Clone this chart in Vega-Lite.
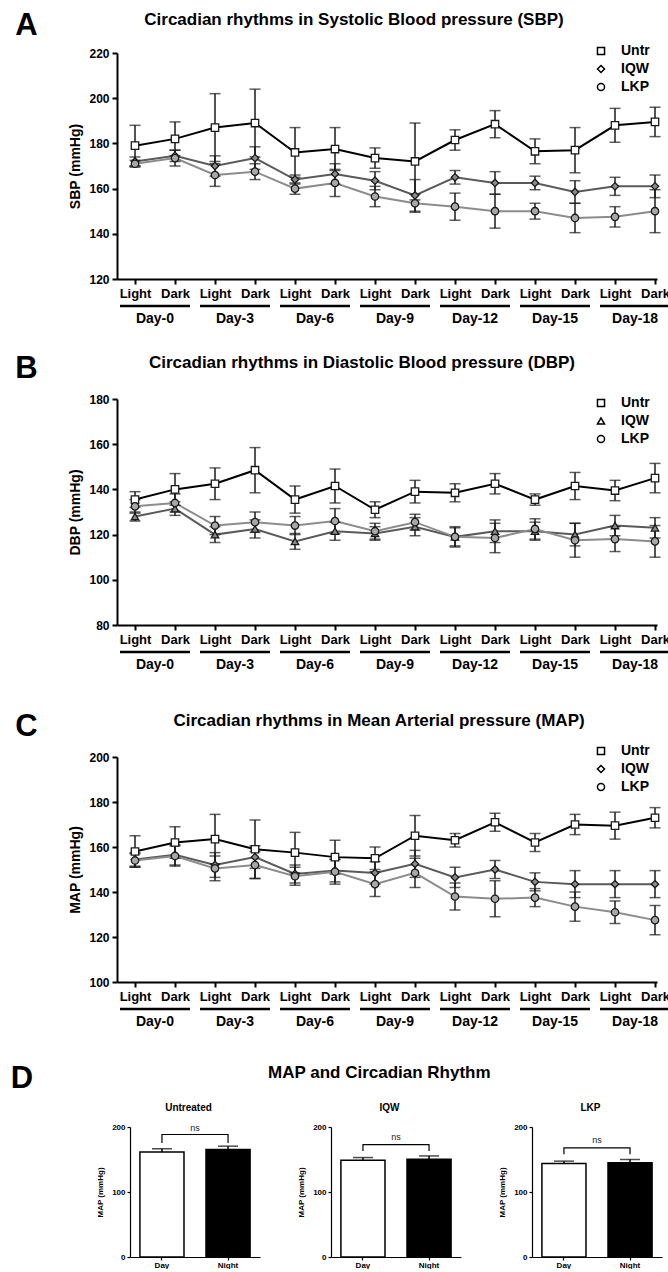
{
"$schema":"https://vega.github.io/schema/vega-lite/v6.json",
"padding":{"left":10,"top":10,"right":0,"bottom":0},
"config":{"font":"Liberation Sans","view":{"stroke":null},
 "axis":{"grid":false,"domainColor":"#000","domainWidth":2,"tickColor":"#000","tickWidth":2,"tickSize":5,"labelColor":"#000","labelFontWeight":"bold","titleColor":"#000","titleFontWeight":"bold","labelFont":"Liberation Sans","titleFont":"Liberation Sans"},
 "title":{"color":"#000","font":"Liberation Sans"},
 "legend":{"labelColor":"#000","labelFont":"Liberation Sans","padding":0,"labelFontSize":14,"labelFontWeight":"bold","symbolSize":50,"symbolStrokeWidth":1.5,"symbolStrokeColor":"#000","symbolFillColor":"#fff","labelOffset":13,"rowPadding":4,"title":null}},
"datasets":{
 "sbp":[
  {"i":0,"g":"Untr","m":179,"e":9},{"i":1,"g":"Untr","m":182,"e":7.5},{"i":2,"g":"Untr","m":187,"e":15},{"i":3,"g":"Untr","m":189,"e":15},{"i":4,"g":"Untr","m":176,"e":11},{"i":5,"g":"Untr","m":177.5,"e":9.5},{"i":6,"g":"Untr","m":173.5,"e":4.5},{"i":7,"g":"Untr","m":172,"e":17},{"i":8,"g":"Untr","m":181.5,"e":4.5},{"i":9,"g":"Untr","m":188.5,"e":6},{"i":10,"g":"Untr","m":176.5,"e":5.5},{"i":11,"g":"Untr","m":177,"e":10},{"i":12,"g":"Untr","m":188,"e":7.5},{"i":13,"g":"Untr","m":189.5,"e":6.5},
  {"i":0,"g":"IQW","m":172,"e":2},{"i":1,"g":"IQW","m":174.5,"e":2.5},{"i":2,"g":"IQW","m":170,"e":4.5},{"i":3,"g":"IQW","m":173.5,"e":5},{"i":4,"g":"IQW","m":164,"e":2},{"i":5,"g":"IQW","m":166.5,"e":4.5},{"i":6,"g":"IQW","m":163.5,"e":4},{"i":7,"g":"IQW","m":157,"e":7},{"i":8,"g":"IQW","m":165,"e":3},{"i":9,"g":"IQW","m":162.5,"e":5},{"i":10,"g":"IQW","m":162.5,"e":3},{"i":11,"g":"IQW","m":158.5,"e":5},{"i":12,"g":"IQW","m":161,"e":4},{"i":13,"g":"IQW","m":161,"e":5},
  {"i":0,"g":"LKP","m":171,"e":1.5},{"i":1,"g":"LKP","m":173.5,"e":3.5},{"i":2,"g":"LKP","m":166,"e":5},{"i":3,"g":"LKP","m":167.5,"e":3.5},{"i":4,"g":"LKP","m":160,"e":2.5},{"i":5,"g":"LKP","m":162.5,"e":6},{"i":6,"g":"LKP","m":156.5,"e":4.5},{"i":7,"g":"LKP","m":153.5,"e":4},{"i":8,"g":"LKP","m":152,"e":6},{"i":9,"g":"LKP","m":150,"e":7.5},{"i":10,"g":"LKP","m":150,"e":3.5},{"i":11,"g":"LKP","m":147,"e":6.5},{"i":12,"g":"LKP","m":147.5,"e":4.5},{"i":13,"g":"LKP","m":150,"e":9.5}
 ],
 "dbp":[
  {"i":0,"g":"Untr","m":135.5,"e":3.5},{"i":1,"g":"Untr","m":140,"e":7},{"i":2,"g":"Untr","m":142.5,"e":7},{"i":3,"g":"Untr","m":148.5,"e":10},{"i":4,"g":"Untr","m":135.5,"e":6},{"i":5,"g":"Untr","m":141.5,"e":7.5},{"i":6,"g":"Untr","m":131,"e":3.5},{"i":7,"g":"Untr","m":139,"e":5},{"i":8,"g":"Untr","m":138.5,"e":4},{"i":9,"g":"Untr","m":142.5,"e":4.5},{"i":10,"g":"Untr","m":135.5,"e":2.5},{"i":11,"g":"Untr","m":141.5,"e":6},{"i":12,"g":"Untr","m":139.5,"e":4.5},{"i":13,"g":"Untr","m":145,"e":6.5},
  {"i":0,"g":"IQW","m":128,"e":2},{"i":1,"g":"IQW","m":131.5,"e":3},{"i":2,"g":"IQW","m":120,"e":3.5},{"i":3,"g":"IQW","m":122.5,"e":4},{"i":4,"g":"IQW","m":117,"e":3.5},{"i":5,"g":"IQW","m":121.5,"e":4},{"i":6,"g":"IQW","m":120.5,"e":3},{"i":7,"g":"IQW","m":123.5,"e":4},{"i":8,"g":"IQW","m":119,"e":4},{"i":9,"g":"IQW","m":121.5,"e":5},{"i":10,"g":"IQW","m":121.5,"e":4},{"i":11,"g":"IQW","m":120,"e":5},{"i":12,"g":"IQW","m":124,"e":4.5},{"i":13,"g":"IQW","m":123,"e":4.5},
  {"i":0,"g":"LKP","m":132.5,"e":3},{"i":1,"g":"LKP","m":134,"e":4},{"i":2,"g":"LKP","m":124,"e":4},{"i":3,"g":"LKP","m":125.5,"e":4.5},{"i":4,"g":"LKP","m":124,"e":4},{"i":5,"g":"LKP","m":126,"e":5.5},{"i":6,"g":"LKP","m":121.5,"e":3.5},{"i":7,"g":"LKP","m":125.5,"e":3.5},{"i":8,"g":"LKP","m":119,"e":4.5},{"i":9,"g":"LKP","m":118.5,"e":6.5},{"i":10,"g":"LKP","m":122.5,"e":4.5},{"i":11,"g":"LKP","m":117.5,"e":7.5},{"i":12,"g":"LKP","m":118,"e":5.5},{"i":13,"g":"LKP","m":117,"e":7}
 ],
 "map":[
  {"i":0,"g":"Untr","m":158,"e":7},{"i":1,"g":"Untr","m":162,"e":7},{"i":2,"g":"Untr","m":163.5,"e":11},{"i":3,"g":"Untr","m":159,"e":13},{"i":4,"g":"Untr","m":157.5,"e":9},{"i":5,"g":"Untr","m":155.5,"e":7.5},{"i":6,"g":"Untr","m":155,"e":5},{"i":7,"g":"Untr","m":165,"e":9},{"i":8,"g":"Untr","m":163,"e":3},{"i":9,"g":"Untr","m":171,"e":4},{"i":10,"g":"Untr","m":162,"e":4},{"i":11,"g":"Untr","m":170,"e":4.5},{"i":12,"g":"Untr","m":169.5,"e":6},{"i":13,"g":"Untr","m":173,"e":4.5},
  {"i":0,"g":"IQW","m":154.5,"e":3},{"i":1,"g":"IQW","m":156.5,"e":4.5},{"i":2,"g":"IQW","m":152,"e":5.5},{"i":3,"g":"IQW","m":155.5,"e":5},{"i":4,"g":"IQW","m":148,"e":4},{"i":5,"g":"IQW","m":149.5,"e":5},{"i":6,"g":"IQW","m":148.5,"e":5},{"i":7,"g":"IQW","m":152.5,"e":6},{"i":8,"g":"IQW","m":146.5,"e":4.5},{"i":9,"g":"IQW","m":150,"e":4},{"i":10,"g":"IQW","m":144.5,"e":4},{"i":11,"g":"IQW","m":143.5,"e":6},{"i":12,"g":"IQW","m":143.5,"e":6},{"i":13,"g":"IQW","m":143.5,"e":6},
  {"i":0,"g":"LKP","m":154,"e":3},{"i":1,"g":"LKP","m":156,"e":4.5},{"i":2,"g":"LKP","m":150.5,"e":5.5},{"i":3,"g":"LKP","m":152,"e":6},{"i":4,"g":"LKP","m":147,"e":4},{"i":5,"g":"LKP","m":149,"e":5.5},{"i":6,"g":"LKP","m":143.5,"e":5.5},{"i":7,"g":"LKP","m":148.5,"e":6.5},{"i":8,"g":"LKP","m":138,"e":6},{"i":9,"g":"LKP","m":137,"e":8},{"i":10,"g":"LKP","m":137.5,"e":4},{"i":11,"g":"LKP","m":133.5,"e":6.5},{"i":12,"g":"LKP","m":131,"e":5},{"i":13,"g":"LKP","m":127.5,"e":6.5}
 ],
 "days":[
  {"d":"Day-0","s":-0.375,"e":1.375,"c":0.5},{"d":"Day-3","s":1.625,"e":3.375,"c":2.5},{"d":"Day-6","s":3.625,"e":5.375,"c":4.5},{"d":"Day-9","s":5.625,"e":7.375,"c":6.5},{"d":"Day-12","s":7.625,"e":9.375,"c":8.5},{"d":"Day-15","s":9.625,"e":11.375,"c":10.5},{"d":"Day-18","s":11.625,"e":13.375,"c":12.5}
 ],
 "bars":[
  {"g":"Untreated","p":"Day","m":161.5,"hi":166.5},{"g":"Untreated","p":"Night","m":165.5,"hi":170.5},
  {"g":"IQW","p":"Day","m":149,"hi":153},{"g":"IQW","p":"Night","m":150.5,"hi":155.5},
  {"g":"LKP","p":"Day","m":144,"hi":147.5},{"g":"LKP","p":"Night","m":145,"hi":150}
 ],
 "brk":[
  {"g":"Untreated","p":"Day","y":175.5,"o":1},{"g":"Untreated","p":"Day","y":188.5,"o":2},{"g":"Untreated","p":"Night","y":188.5,"o":3},{"g":"Untreated","p":"Night","y":175.5,"o":4},
  {"g":"IQW","p":"Day","y":163,"o":1},{"g":"IQW","p":"Day","y":173,"o":2},{"g":"IQW","p":"Night","y":173,"o":3},{"g":"IQW","p":"Night","y":163,"o":4},
  {"g":"LKP","p":"Day","y":158,"o":1},{"g":"LKP","p":"Day","y":168,"o":2},{"g":"LKP","p":"Night","y":168,"o":3},{"g":"LKP","p":"Night","y":158,"o":4}
 ],
 "ns":[
  {"g":"Untreated","p":"Day","y":198,"t":"ns"},{"g":"IQW","p":"Day","y":184.5,"t":"ns"},{"g":"LKP","p":"Day","y":179.5,"t":"ns"}
 ]
},
"spacing":0,
"resolve":{"scale":{"x":"independent","y":"independent","color":"independent","fill":"independent","shape":"independent"},"legend":{"shape":"independent","fill":"independent","color":"independent"}},
"vconcat":[
 {"title":{"text":"A","orient":"left","anchor":"end","angle":0,"align":"right","baseline":"top","fontSize":31,"fontWeight":"bold","offset":9},
  "spacing":0,
  "resolve":{"scale":{"x":"independent","y":"independent"}},
  "vconcat":[
   {"width":540,"height":226,"data":{"name":"sbp"},
    "title":{"text":"Circadian rhythms in Systolic Blood pressure (SBP)","fontSize":17,"fontWeight":"bold","frame":"group","anchor":"middle","dx":-33,"offset":18},
    "encoding":{"x":{"field":"i","type":"quantitative","scale":{"domain":[-0.45,13.05],"nice":false,"zero":false},"axis":{"values":[0,1,2,3,4,5,6,7,8,9,10,11,12,13],"labelExpr":"datum.value % 2 == 0 ? 'Light' : 'Dark'","title":null,"labelFontSize":13,"labelPadding":3,"labelOverlap":false,"labelFlush":false}},
     "y":{"field":"m","type":"quantitative","scale":{"domain":[120,220],"nice":false,"zero":false},"axis":{"values":[120,140,160,180,200,220],"title":"SBP (mmHg)","titleFontSize":14,"labelFontSize":12,"titlePadding":6,"labelPadding":3}}},
    "layer":[
     {"mark":{"type":"line","strokeWidth":2},"encoding":{"color":{"field":"g","type":"nominal","scale":{"domain":["LKP","IQW","Untr"],"range":["#8c8c8c","#5a5a5a","#000000"]},"legend":null}}},
     {"mark":{"type":"errorbar","ticks":true,"size":11,"thickness":1.5,"color":"#1a1a1a"},"encoding":{"yError":{"field":"e"},"detail":{"field":"g"}}},
     {"mark":{"type":"point","filled":true,"size":55,"stroke":"#1a1a1a","strokeWidth":1.3,"opacity":1},"encoding":{
       "shape":{"field":"g","type":"nominal","scale":{"domain":["Untr","IQW","LKP"],"range":["square","diamond","circle"]},"legend":{"orient":"none","legendX":477,"legendY":-9,"encode":{"symbols":{"update":{"fill":{"value":"#fff"},"stroke":{"value":"#000"},"strokeWidth":{"value":1.5}}}}}},
       "fill":{"field":"g","type":"nominal","scale":{"domain":["LKP","IQW","Untr"],"range":["#a8a8a8","#8a8a8a","#ffffff"]},"legend":null}}}
    ]},
   {"width":540,"height":53,"data":{"name":"days"},
    "layer":[
     {"mark":{"type":"rule","color":"#000","strokeWidth":2.5},"encoding":{"x":{"field":"s","type":"quantitative","scale":{"domain":[-0.45,13.05],"nice":false,"zero":false},"axis":null},"x2":{"field":"e"},"y":{"datum":6,"type":"quantitative","scale":{"domain":[0,53],"reverse":true,"nice":false,"zero":false},"axis":null}}},
     {"mark":{"type":"text","fontSize":14,"fontWeight":"bold","baseline":"middle","color":"#000"},"encoding":{"x":{"field":"c","type":"quantitative","axis":null},"y":{"datum":19,"type":"quantitative","axis":null},"text":{"field":"d"}}}
    ]}
  ]},
 {"title":{"text":"B","orient":"left","anchor":"end","angle":0,"align":"right","baseline":"top","fontSize":31,"fontWeight":"bold","offset":9},
  "spacing":0,
  "resolve":{"scale":{"x":"independent","y":"independent"}},
  "vconcat":[
   {"width":540,"height":226,"data":{"name":"dbp"},
    "title":{"text":"Circadian rhythms in Diastolic Blood pressure (DBP)","fontSize":17,"fontWeight":"bold","frame":"group","anchor":"middle","dx":-25,"offset":21},
    "encoding":{"x":{"field":"i","type":"quantitative","scale":{"domain":[-0.45,13.05],"nice":false,"zero":false},"axis":{"values":[0,1,2,3,4,5,6,7,8,9,10,11,12,13],"labelExpr":"datum.value % 2 == 0 ? 'Light' : 'Dark'","title":null,"labelFontSize":13,"labelPadding":3,"labelOverlap":false,"labelFlush":false}},
     "y":{"field":"m","type":"quantitative","scale":{"domain":[80,180],"nice":false,"zero":false},"axis":{"values":[80,100,120,140,160,180],"title":"DBP (mmHg)","titleFontSize":14,"labelFontSize":12,"titlePadding":6,"labelPadding":3}}},
    "layer":[
     {"mark":{"type":"line","strokeWidth":2},"encoding":{"color":{"field":"g","type":"nominal","scale":{"domain":["LKP","IQW","Untr"],"range":["#8c8c8c","#5a5a5a","#000000"]},"legend":null}}},
     {"mark":{"type":"errorbar","ticks":true,"size":11,"thickness":1.5,"color":"#1a1a1a"},"encoding":{"yError":{"field":"e"},"detail":{"field":"g"}}},
     {"mark":{"type":"point","filled":true,"size":55,"stroke":"#1a1a1a","strokeWidth":1.3,"opacity":1},"encoding":{
       "shape":{"field":"g","type":"nominal","scale":{"domain":["Untr","IQW","LKP"],"range":["square","triangle-up","circle"]},"legend":{"orient":"none","legendX":477,"legendY":-3,"encode":{"symbols":{"update":{"fill":{"value":"#fff"},"stroke":{"value":"#000"},"strokeWidth":{"value":1.5}}}}}},
       "fill":{"field":"g","type":"nominal","scale":{"domain":["LKP","IQW","Untr"],"range":["#a8a8a8","#8a8a8a","#ffffff"]},"legend":null}}}
    ]},
   {"width":540,"height":65,"data":{"name":"days"},
    "layer":[
     {"mark":{"type":"rule","color":"#000","strokeWidth":2.5},"encoding":{"x":{"field":"s","type":"quantitative","scale":{"domain":[-0.45,13.05],"nice":false,"zero":false},"axis":null},"x2":{"field":"e"},"y":{"datum":6,"type":"quantitative","scale":{"domain":[0,65],"reverse":true,"nice":false,"zero":false},"axis":null}}},
     {"mark":{"type":"text","fontSize":14,"fontWeight":"bold","baseline":"middle","color":"#000"},"encoding":{"x":{"field":"c","type":"quantitative","axis":null},"y":{"datum":19,"type":"quantitative","axis":null},"text":{"field":"d"}}}
    ]}
  ]},
 {"title":{"text":"C","orient":"left","anchor":"end","angle":0,"align":"right","baseline":"top","fontSize":31,"fontWeight":"bold","offset":9},
  "spacing":0,
  "resolve":{"scale":{"x":"independent","y":"independent"}},
  "vconcat":[
   {"width":540,"height":225,"data":{"name":"map"},
    "title":{"text":"Circadian rhythms in Mean Arterial pressure (MAP)","fontSize":17,"fontWeight":"bold","frame":"group","anchor":"middle","dx":-8,"offset":21},
    "encoding":{"x":{"field":"i","type":"quantitative","scale":{"domain":[-0.45,13.05],"nice":false,"zero":false},"axis":{"values":[0,1,2,3,4,5,6,7,8,9,10,11,12,13],"labelExpr":"datum.value % 2 == 0 ? 'Light' : 'Dark'","title":null,"labelFontSize":13,"labelPadding":3,"labelOverlap":false,"labelFlush":false}},
     "y":{"field":"m","type":"quantitative","scale":{"domain":[100,200],"nice":false,"zero":false},"axis":{"values":[100,120,140,160,180,200],"title":"MAP (mmHg)","titleFontSize":14,"labelFontSize":12,"titlePadding":6,"labelPadding":3}}},
    "layer":[
     {"mark":{"type":"line","strokeWidth":2},"encoding":{"color":{"field":"g","type":"nominal","scale":{"domain":["LKP","IQW","Untr"],"range":["#8c8c8c","#5a5a5a","#000000"]},"legend":null}}},
     {"mark":{"type":"errorbar","ticks":true,"size":11,"thickness":1.5,"color":"#1a1a1a"},"encoding":{"yError":{"field":"e"},"detail":{"field":"g"}}},
     {"mark":{"type":"point","filled":true,"size":55,"stroke":"#1a1a1a","strokeWidth":1.3,"opacity":1},"encoding":{
       "shape":{"field":"g","type":"nominal","scale":{"domain":["Untr","IQW","LKP"],"range":["square","diamond","circle"]},"legend":{"orient":"none","legendX":477,"legendY":-13,"encode":{"symbols":{"update":{"fill":{"value":"#fff"},"stroke":{"value":"#000"},"strokeWidth":{"value":1.5}}}}}},
       "fill":{"field":"g","type":"nominal","scale":{"domain":["LKP","IQW","Untr"],"range":["#a8a8a8","#8a8a8a","#ffffff"]},"legend":null}}}
    ]},
   {"width":540,"height":60,"data":{"name":"days"},
    "layer":[
     {"mark":{"type":"rule","color":"#000","strokeWidth":2.5},"encoding":{"x":{"field":"s","type":"quantitative","scale":{"domain":[-0.45,13.05],"nice":false,"zero":false},"axis":null},"x2":{"field":"e"},"y":{"datum":6,"type":"quantitative","scale":{"domain":[0,60],"reverse":true,"nice":false,"zero":false},"axis":null}}},
     {"mark":{"type":"text","fontSize":14,"fontWeight":"bold","baseline":"middle","color":"#000"},"encoding":{"x":{"field":"c","type":"quantitative","axis":null},"y":{"datum":19,"type":"quantitative","axis":null},"text":{"field":"d"}}}
    ]}
  ]},
 {"title":{"text":"D","orient":"left","anchor":"end","angle":0,"align":"right","baseline":"top","fontSize":31,"fontWeight":"bold","offset":41},
  "resolve":{"scale":{"x":"independent","y":"independent"}},
  "vconcat":[
   {"title":{"text":"MAP and Circadian Rhythm","fontSize":17,"fontWeight":"bold","anchor":"middle","offset":21},
    "spacing":37,
    "hconcat":[
     {"width":143,"height":130,"title":{"text":"Untreated","fontSize":10,"fontWeight":"bold","offset":10},
      "layer":[
       {"data":{"name":"bars"},"transform":[{"filter":"datum.g == 'Untreated'"}],"mark":{"type":"bar","stroke":"#000","strokeWidth":1.5},"encoding":{"x":{"field":"p","type":"nominal","scale":{"domain":["Day","Night"],"range":[13,143],"paddingInner":0.333,"paddingOuter":0.15},"axis":{"title":null,"labelAngle":0,"labelFontSize":8,"tickSize":3,"domainWidth":1.2,"tickWidth":1.2,"labelPadding":1}},"y":{"field":"m","type":"quantitative","scale":{"domain":[0,200],"nice":false},"axis":{"values":[0,50,100,150,200],"title":"MAP (mmHg)","titleFontSize":8,"labelFontSize":8,"tickSize":3,"domainWidth":1.2,"tickWidth":1.2,"labelPadding":2,"titlePadding":7,"offset":-13}},"fill":{"field":"p","type":"nominal","scale":{"domain":["Day","Night"],"range":["#ffffff","#000000"]},"legend":null}}},
       {"data":{"name":"bars"},"transform":[{"filter":"datum.g == 'Untreated'"}],"mark":{"type":"rule","color":"#000","strokeWidth":1.5},"encoding":{"x":{"field":"p","type":"nominal"},"y":{"field":"m","type":"quantitative"},"y2":{"field":"hi"}}},
       {"data":{"name":"bars"},"transform":[{"filter":"datum.g == 'Untreated'"}],"mark":{"type":"tick","color":"#000","thickness":1.5,"size":20},"encoding":{"x":{"field":"p","type":"nominal"},"y":{"field":"hi","type":"quantitative"}}},
       {"data":{"name":"brk"},"transform":[{"filter":"datum.g == 'Untreated'"}],"mark":{"type":"line","color":"#000","strokeWidth":1.2},"encoding":{"x":{"field":"p","type":"nominal"},"y":{"field":"y","type":"quantitative"},"order":{"field":"o","type":"quantitative"}}},
       {"data":{"name":"ns"},"transform":[{"filter":"datum.g == 'Untreated'"}],"mark":{"type":"text","fontSize":9,"baseline":"middle","color":"#222"},"encoding":{"x":{"field":"p","type":"nominal","bandPosition":1.25},"y":{"field":"y","type":"quantitative"},"text":{"field":"t"}}}
      ]},
     {"width":143,"height":130,"title":{"text":"IQW","fontSize":10,"fontWeight":"bold","offset":10},
      "layer":[
       {"data":{"name":"bars"},"transform":[{"filter":"datum.g == 'IQW'"}],"mark":{"type":"bar","stroke":"#000","strokeWidth":1.5},"encoding":{"x":{"field":"p","type":"nominal","scale":{"domain":["Day","Night"],"range":[13,143],"paddingInner":0.333,"paddingOuter":0.15},"axis":{"title":null,"labelAngle":0,"labelFontSize":8,"tickSize":3,"domainWidth":1.2,"tickWidth":1.2,"labelPadding":1}},"y":{"field":"m","type":"quantitative","scale":{"domain":[0,200],"nice":false},"axis":{"values":[0,50,100,150,200],"title":"MAP (mmHg)","titleFontSize":8,"labelFontSize":8,"tickSize":3,"domainWidth":1.2,"tickWidth":1.2,"labelPadding":2,"titlePadding":7,"offset":-13}},"fill":{"field":"p","type":"nominal","scale":{"domain":["Day","Night"],"range":["#ffffff","#000000"]},"legend":null}}},
       {"data":{"name":"bars"},"transform":[{"filter":"datum.g == 'IQW'"}],"mark":{"type":"rule","color":"#000","strokeWidth":1.5},"encoding":{"x":{"field":"p","type":"nominal"},"y":{"field":"m","type":"quantitative"},"y2":{"field":"hi"}}},
       {"data":{"name":"bars"},"transform":[{"filter":"datum.g == 'IQW'"}],"mark":{"type":"tick","color":"#000","thickness":1.5,"size":20},"encoding":{"x":{"field":"p","type":"nominal"},"y":{"field":"hi","type":"quantitative"}}},
       {"data":{"name":"brk"},"transform":[{"filter":"datum.g == 'IQW'"}],"mark":{"type":"line","color":"#000","strokeWidth":1.2},"encoding":{"x":{"field":"p","type":"nominal"},"y":{"field":"y","type":"quantitative"},"order":{"field":"o","type":"quantitative"}}},
       {"data":{"name":"ns"},"transform":[{"filter":"datum.g == 'IQW'"}],"mark":{"type":"text","fontSize":9,"baseline":"middle","color":"#222"},"encoding":{"x":{"field":"p","type":"nominal","bandPosition":1.25},"y":{"field":"y","type":"quantitative"},"text":{"field":"t"}}}
      ]},
     {"width":143,"height":130,"title":{"text":"LKP","fontSize":10,"fontWeight":"bold","offset":10},
      "layer":[
       {"data":{"name":"bars"},"transform":[{"filter":"datum.g == 'LKP'"}],"mark":{"type":"bar","stroke":"#000","strokeWidth":1.5},"encoding":{"x":{"field":"p","type":"nominal","scale":{"domain":["Day","Night"],"range":[13,143],"paddingInner":0.333,"paddingOuter":0.15},"axis":{"title":null,"labelAngle":0,"labelFontSize":8,"tickSize":3,"domainWidth":1.2,"tickWidth":1.2,"labelPadding":1}},"y":{"field":"m","type":"quantitative","scale":{"domain":[0,200],"nice":false},"axis":{"values":[0,50,100,150,200],"title":"MAP (mmHg)","titleFontSize":8,"labelFontSize":8,"tickSize":3,"domainWidth":1.2,"tickWidth":1.2,"labelPadding":2,"titlePadding":7,"offset":-13}},"fill":{"field":"p","type":"nominal","scale":{"domain":["Day","Night"],"range":["#ffffff","#000000"]},"legend":null}}},
       {"data":{"name":"bars"},"transform":[{"filter":"datum.g == 'LKP'"}],"mark":{"type":"rule","color":"#000","strokeWidth":1.5},"encoding":{"x":{"field":"p","type":"nominal"},"y":{"field":"m","type":"quantitative"},"y2":{"field":"hi"}}},
       {"data":{"name":"bars"},"transform":[{"filter":"datum.g == 'LKP'"}],"mark":{"type":"tick","color":"#000","thickness":1.5,"size":20},"encoding":{"x":{"field":"p","type":"nominal"},"y":{"field":"hi","type":"quantitative"}}},
       {"data":{"name":"brk"},"transform":[{"filter":"datum.g == 'LKP'"}],"mark":{"type":"line","color":"#000","strokeWidth":1.2},"encoding":{"x":{"field":"p","type":"nominal"},"y":{"field":"y","type":"quantitative"},"order":{"field":"o","type":"quantitative"}}},
       {"data":{"name":"ns"},"transform":[{"filter":"datum.g == 'LKP'"}],"mark":{"type":"text","fontSize":9,"baseline":"middle","color":"#222"},"encoding":{"x":{"field":"p","type":"nominal","bandPosition":1.25},"y":{"field":"y","type":"quantitative"},"text":{"field":"t"}}}
      ]}
    ]}
  ]}
]
}
